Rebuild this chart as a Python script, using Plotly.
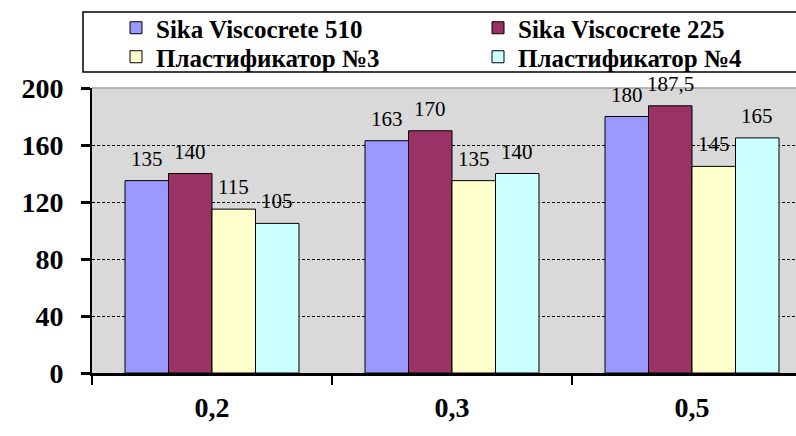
import plotly.graph_objects as go

categories = ["0,2", "0,3", "0,5"]
series_names = ["Sika Viscocrete 510", "Sika Viscocrete 225", "Пластификатор №3", "Пластификатор №4"]
sika510 = [135, 163, 180]
sika225 = [140, 170, 187.5]
plast3 = [115, 135, 145]
plast4 = [105, 140, 165]
y_ticks = [0, 40, 80, 120, 160, 200]

colors = ["#9999FF", "#993366", "#FFFFCC", "#CCFFFF"]
series_values = [sika510, sika225, plast3, plast4]
legend_ids = ["legend", "legend2", "legend3", "legend4"]

SERIF = "Liberation Serif"
W, H = 796, 436
ML, MT, MB = 92, 88, 63
plot_w = W - ML
plot_h = H - MT - MB

fig = go.Figure()
for name, vals, col, lg in zip(series_names, series_values, colors, legend_ids):
    fig.add_trace(go.Bar(
        name="<b>" + name + "</b>", x=categories, y=vals,
        marker=dict(color=col, line=dict(color="black", width=1)),
        legend=lg,
    ))

bargap = 0.275
bw = (1 - bargap) / 4
annotations = []
for si, vals in enumerate(series_values):
    off = (si - 1.5) * bw
    for ci, v in enumerate(vals):
        txt = (str(int(v)) if float(v).is_integer() else str(v).replace(".", ","))
        annotations.append(dict(
            x=ci + off, y=v, xref="x", yref="y", text=txt, showarrow=False,
            yanchor="bottom", yshift=8,
            font=dict(family=SERIF, size=21, color="black"),
        ))

def px_to_px(x):
    return (x - ML) / plot_w

def py_to_py(y):
    return (H - MB - y) / plot_h

shapes = [
    dict(type="rect", xref="paper", yref="paper",
         x0=px_to_px(83), x1=px_to_px(820), y0=py_to_py(72), y1=py_to_py(12),
         line=dict(color="black", width=1.5), fillcolor="white", layer="below"),
    dict(type="line", xref="paper", yref="paper",
         x0=0, x1=1.05, y0=1, y1=1, line=dict(color="#A0A0A0", width=1.5)),
]

legend_font = dict(family=SERIF, size=25, color="black")
leg_pos = {"legend": (116, 28), "legend2": (478, 28), "legend3": (116, 57), "legend4": (478, 57)}
legends = {}
for lid, (lx, ly) in leg_pos.items():
    legends[lid] = dict(x=px_to_px(lx), y=py_to_py(ly), xanchor="left", yanchor="middle",
                        orientation="v", font=legend_font, bgcolor="rgba(0,0,0,0)",
                        tracegroupgap=0, itemwidth=30)

fig.update_layout(
    width=W, height=H,
    margin=dict(l=ML, r=0, t=MT, b=MB),
    paper_bgcolor="white", plot_bgcolor="#D9D9D9",
    barmode="group", bargap=bargap, bargroupgap=0,
    showlegend=True,
    **legends,
    xaxis=dict(
        type="category", range=[-0.5, -0.5 + plot_w / 240.0],
        tickvals=categories, ticktext=["<b>" + c + "</b>" for c in categories],
        showline=True, linecolor="black", linewidth=3,
        ticks="outside", tickson="boundaries", ticklen=9, tickwidth=2, tickcolor="black",
        tickfont=dict(family=SERIF, size=28, color="black"),
        ticklabelstandoff=7, showgrid=False,
    ),
    yaxis=dict(
        range=[0, 200], tickvals=y_ticks, ticktext=["<b>%d</b>" % t for t in y_ticks],
        showline=True, linecolor="black", linewidth=2,
        ticks="outside", ticklen=9, tickwidth=3, tickcolor="black",
        tickfont=dict(family=SERIF, size=28, color="black"),
        ticklabelstandoff=12,
        showgrid=True, gridcolor="black", gridwidth=1, griddash="3px,2px",
        zeroline=False,
    ),
    annotations=annotations,
    shapes=shapes,
)

fig.write_html("out.html")
